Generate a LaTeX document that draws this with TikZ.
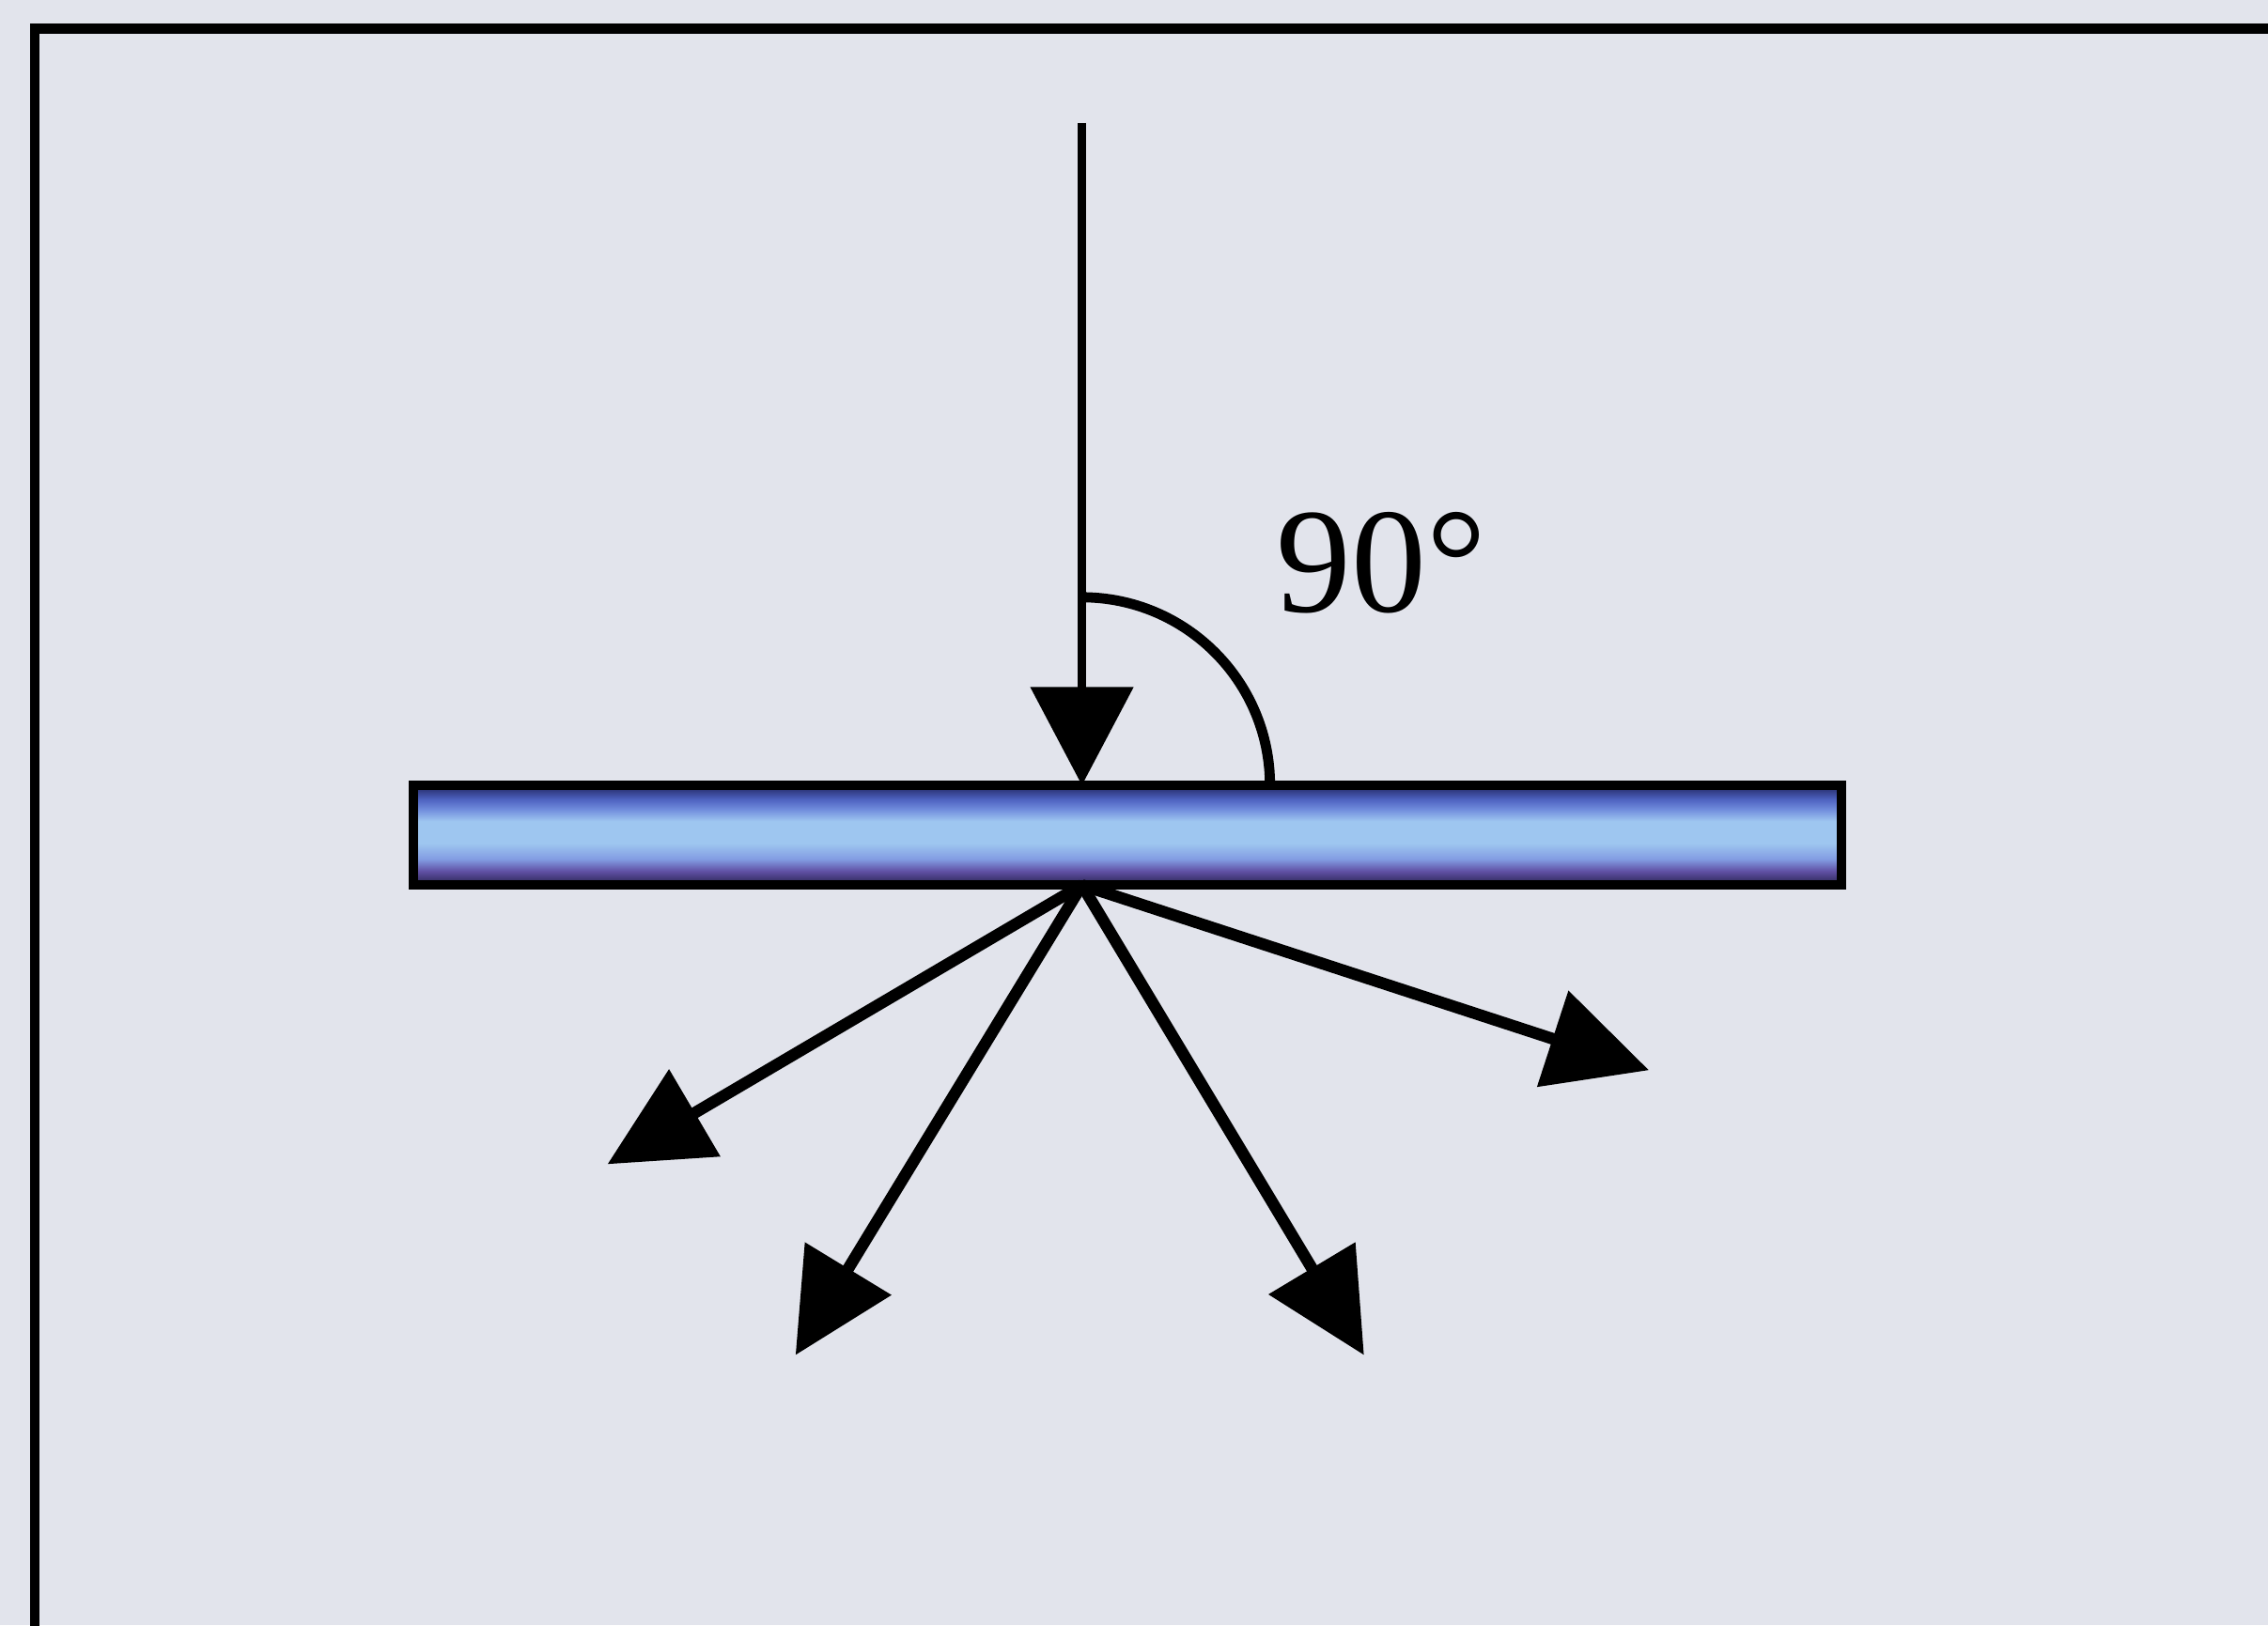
\documentclass[tikz,border=0pt]{standalone}
\usepackage{fontspec}
\setmainfont{Liberation Serif}
\usetikzlibrary{arrows.meta,
                calc,
                positioning}

\definecolor{paper}{RGB}{226,228,236}
\definecolor{plbot}{RGB}{40,36,80}
\definecolor{plpurple}{RGB}{96,80,164}
\definecolor{plblue}{RGB}{130,156,226}
\definecolor{pllight}{RGB}{158,198,240}
\definecolor{plmid}{RGB}{112,140,220}
\definecolor{pltop}{RGB}{78,98,192}
\definecolor{pldark}{RGB}{32,38,96}
\pgfdeclareverticalshading{platefill}{100bp}{color(0bp)=(plbot); color(25bp)=(plbot);
  color(32bp)=(plpurple); color(38bp)=(plblue); color(46bp)=(pllight); color(57bp)=(pllight);
  color(63bp)=(plmid); color(68bp)=(pltop); color(75bp)=(pldark); color(100bp)=(pldark)}

\begin{document}
\begin{tikzpicture}[
        x=0.1mm, y=-0.1mm,
        frame/.style={draw=black, line width=2pt},
        plate/.style={rectangle, draw=black, line width=1.8pt, shading=platefill, minimum width=98.7mm, minimum height=6.9mm, inner sep=0pt},
        ray/.style={line width=1.8pt, -{Triangle[length=6.8mm, width=7mm]}},
        scatter/.style={line width=2.3pt, -{Triangle[length=7mm, width=6.8mm]}},
        angle/.style={line width=2pt},
        lbl/.style={font=\fontsize{29.5}{32}\selectfont, inner sep=0pt}
        ]

        \fill [paper] (0,0) rectangle (1568,1124);
        \useasboundingbox (0,0) rectangle (1568,1124);
        \draw [frame] (24,1140) -- (24,20) -- (1580,20);

        % plate and rays
        \node (plate) [plate] at (779.5,577.5) {};
        \coordinate (src)  at (748,85);
        \coordinate (hit)  at (748,543);
        \coordinate (exit) at (748,612);
        \coordinate (out1) at (420,805);
        \coordinate (out2) at (550,937);
        \coordinate (out3) at (943,937);
        \coordinate (out4) at (1140,740);

        \draw [ray] (src) -- (hit);
        \draw [angle] (748,413) arc[start angle=-90, end angle=0, radius=130];
        \node (deg) [lbl] at (955,389) {90°};

        \draw [scatter] (exit) -- (out1);
        \draw [scatter] (exit) -- (out2);
        \draw [scatter] (exit) -- (out3);
        \draw [scatter] (exit) -- (out4);

    \end{tikzpicture}
\end{document}
